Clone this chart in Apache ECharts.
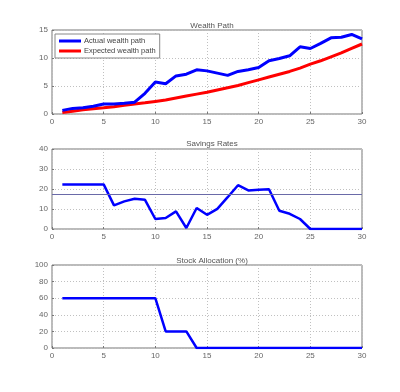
<!DOCTYPE html>
<html><head><meta charset="utf-8">
<script src="https://cdn.jsdelivr.net/npm/echarts@6/dist/echarts.min.js"></script>
<style>html,body{margin:0;padding:0;background:#fff}#c{width:400px;height:392px}</style>
</head><body><div id="c"></div>
<script>
const years = [1,2,3,4,5,6,7,8,9,10,11,12,13,14,15,16,17,18,19,20,21,22,23,24,25,26,27,28,29,30];
const actualWealth = [0.65,1.0,1.1,1.4,1.8,1.8,1.9,2.1,3.7,5.7,5.4,6.8,7.1,7.9,7.7,7.3,6.9,7.6,7.9,8.3,9.5,9.9,10.4,12.0,11.7,12.6,13.6,13.7,14.2,13.4];
const expectedWealth = [0.25,0.5,0.75,0.95,1.1,1.3,1.55,1.8,2.0,2.25,2.5,2.85,3.2,3.55,3.9,4.3,4.7,5.1,5.6,6.1,6.6,7.1,7.6,8.2,8.9,9.5,10.2,10.9,11.7,12.5];
const savingsRates = [22.3,22.3,22.3,22.3,22.3,11.8,13.8,15.1,14.6,5.0,5.5,8.8,0.5,10.5,7.1,10.1,15.9,21.9,19.3,19.6,19.9,9.1,7.6,5.0,0,0,0,0,0,0];
const meanSavingsRate = 17.5;
const stockAllocation = [60,60,60,60,60,60,60,60,60,60,20,20,20,0,0,0,0,0,0,0,0,0,0,0,0,0,0,0,0,0];
const titles = ['Wealth Path','Savings Rates','Stock Allocation (%)'];
const legendNames = ['Actual wealth path','Expected wealth path'];

const pair = (ys) => years.map((x,i)=>[x,ys[i]]);
const font = 'Liberation Sans, Arial, sans-serif';
const labelStyle = {color:'#666', fontSize:8, fontFamily:font, margin:4};
const grids = [
  {left:52, right:38, top:30, height:84},
  {left:52, right:38, top:149, height:80},
  {left:52, right:38, top:265, height:83}
].map(g=>Object.assign(g,{show:true, borderColor:'#777', borderWidth:1, backgroundColor:'#fff', containLabel:false}));
const split = {show:true, lineStyle:{color:'#c0c0c0', type:[1,2], width:1}};
const xAxes = [0,1,2].map(i=>({type:'value', gridIndex:i, min:0, max:30, interval:5,
  axisLine:{show:false}, axisTick:{show:true, inside:true, length:2, lineStyle:{color:'#777'}},
  axisLabel:labelStyle, splitLine:split}));
const yRanges = [[0,15,5],[0,40,10],[0,100,20]];
const yAxes = yRanges.map((r,i)=>({type:'value', gridIndex:i, min:r[0], max:r[1], interval:r[2],
  axisLine:{show:false}, axisTick:{show:true, inside:true, length:2, lineStyle:{color:'#777'}},
  axisLabel:labelStyle, splitLine:split}));
const titleTops = [17, 135, 252];
const option = {
  animation:false,
  backgroundColor:'#fff',
  title: titles.map((t,i)=>({text:t, left:207, top:titleTops[i], textAlign:'center',
    textStyle:{fontSize:8, fontWeight:'normal', color:'#555', fontFamily:font}})),
  legend:{show:true, data:legendNames, orient:'vertical', left:55, top:34, padding:[3,4,3,4],
    itemGap:2, itemWidth:22, itemHeight:3, icon:'rect', borderColor:'#888', borderWidth:1, backgroundColor:'#fff',
    textStyle:{fontSize:7.5, color:'#444', fontFamily:font, padding:[0,0,0,-2]}},
  grid:grids, xAxis:xAxes, yAxis:yAxes,
  series:[
    {name:legendNames[0], type:'line', xAxisIndex:0, yAxisIndex:0, data:pair(actualWealth), symbol:'none', lineStyle:{color:'#0000ff', width:3}, itemStyle:{color:'#0000ff'}, z:3},
    {name:legendNames[1], type:'line', xAxisIndex:0, yAxisIndex:0, data:pair(expectedWealth), symbol:'none', lineStyle:{color:'#ff0000', width:3}, itemStyle:{color:'#ff0000'}, z:2},
    {name:'Savings', type:'line', xAxisIndex:1, yAxisIndex:1, data:pair(savingsRates), symbol:'none', lineStyle:{color:'#0000ff', width:2.5},
      markLine:{silent:true, symbol:['none','none'], label:{show:false}, lineStyle:{color:'#6a6aa8', width:1, type:'solid'}, data:[{yAxis:meanSavingsRate}]}},
    {name:'Stock', type:'line', xAxisIndex:2, yAxisIndex:2, data:pair(stockAllocation), symbol:'none', lineStyle:{color:'#0000ff', width:2.5}}
  ]
};
echarts.init(document.getElementById('c'), null, {renderer:'canvas'}).setOption(option);
</script></body></html>
